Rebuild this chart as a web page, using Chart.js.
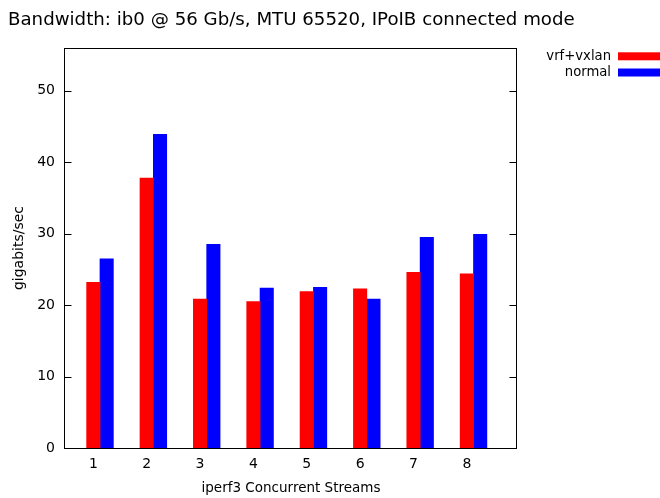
<!DOCTYPE html>
<html>
<head>
<meta charset="utf-8">
<script src="https://cdn.jsdelivr.net/npm/chart.js@4/dist/chart.umd.min.js"></script>
<style>
  html, body { margin: 0; padding: 0; background: #fff; }
</style>
</head>
<body>
<canvas id="chart" width="660" height="498"></canvas>
<script>
const streams = [1, 2, 3, 4, 5, 6, 7, 8];
const vrfVxlan = [23.2, 37.8, 20.85, 20.5, 21.9, 22.3, 24.6, 24.4];
const normal = [26.5, 43.9, 28.5, 22.4, 22.5, 20.85, 29.5, 29.9];
const yTicks = [0, 10, 20, 30, 40, 50];
const seriesNames = ["vrf+vxlan", "normal"];
const seriesColors = ["#ff0000", "#0000ff"];
const titleText = "Bandwidth: ib0 @ 56 Gb/s, MTU 65520, IPoIB connected mode";

const FONT = "'DejaVu Sans', sans-serif";
Chart.defaults.font.family = FONT;
Chart.defaults.color = "#000";

// gnuplot-like title, frame, inward ticks on left and right, legend outside
const framePlugin = {
  id: "frame",
  afterDraw(chart) {
    const ctx = chart.ctx;
    const a = chart.chartArea;
    const y = chart.scales.y;
    const l = Math.round(a.left) - 0.5, r = Math.round(a.right) - 0.5;
    const t = Math.round(a.top) + 0.5, b = Math.round(a.bottom) + 0.5;
    ctx.save();
    ctx.strokeStyle = "#000";
    ctx.lineWidth = 1;
    ctx.strokeRect(l, t, r - l, b - t);
    ctx.beginPath();
    yTicks.forEach(v => {
      const py = Math.round(y.getPixelForValue(v)) + 0.5;
      ctx.moveTo(l, py);
      ctx.lineTo(l + 7, py);
      ctx.moveTo(r, py);
      ctx.lineTo(r - 7, py);
    });
    ctx.stroke();

    ctx.fillStyle = "#000";
    ctx.font = "18.2px " + FONT;
    ctx.textAlign = "left";
    ctx.textBaseline = "alphabetic";
    ctx.fillText(titleText, 8, 25);

    ctx.font = "13.2px " + FONT;
    ctx.textAlign = "right";
    ctx.textBaseline = "middle";
    seriesNames.forEach((name, i) => {
      const cy = 56.3 + i * 16.2;
      ctx.fillStyle = "#000";
      ctx.fillText(name, 611, cy);
      ctx.fillStyle = seriesColors[i];
      ctx.fillRect(618, cy - 4, 42, 8);
    });
    ctx.restore();
  }
};

new Chart(document.getElementById("chart"), {
  type: "bar",
  data: {
    datasets: [
      {
        label: seriesNames[0],
        data: streams.map((s, i) => ({ x: s, y: vrfVxlan[i] })),
        backgroundColor: seriesColors[0]
      },
      {
        label: seriesNames[1],
        data: streams.map((s, i) => ({ x: s + 0.25, y: normal[i] })),
        backgroundColor: seriesColors[1]
      }
    ]
  },
  options: {
    responsive: false,
    animation: false,
    layout: { padding: { left: 7, right: 143, top: 48, bottom: 0 } },
    datasets: {
      bar: { grouped: false, barThickness: 13.4 }
    },
    plugins: {
      legend: { display: false },
      tooltip: { enabled: false },
      title: { display: false }
    },
    scales: {
      x: {
        type: "linear",
        offset: false,
        min: 0.469,
        max: 8.94,
        grid: { display: false, drawTicks: false },
        border: { display: false },
        ticks: { font: { size: 14 }, padding: 8, color: "#000" },
        afterBuildTicks: s => { s.ticks = streams.map(v => ({ value: v })); },
        afterFit: s => { s.height = 50; },
        title: {
          display: true,
          text: "iperf3 Concurrent Streams",
          color: "#000",
          font: { size: 13.5 },
          padding: { top: 0, bottom: 1.5 }
        }
      },
      y: {
        min: 0,
        max: 56,
        grid: { display: false, drawTicks: false },
        border: { display: false },
        ticks: { font: { size: 14 }, padding: 10, color: "#000" },
        afterBuildTicks: s => { s.ticks = yTicks.map(v => ({ value: v })); },
        afterFit: s => { s.width = 58; },
        title: {
          display: true,
          text: "gigabits/sec",
          color: "#000",
          font: { size: 14 },
          padding: { top: 3.8, bottom: 0 }
        }
      }
    }
  },
  plugins: [framePlugin]
});
</script>
</body>
</html>
